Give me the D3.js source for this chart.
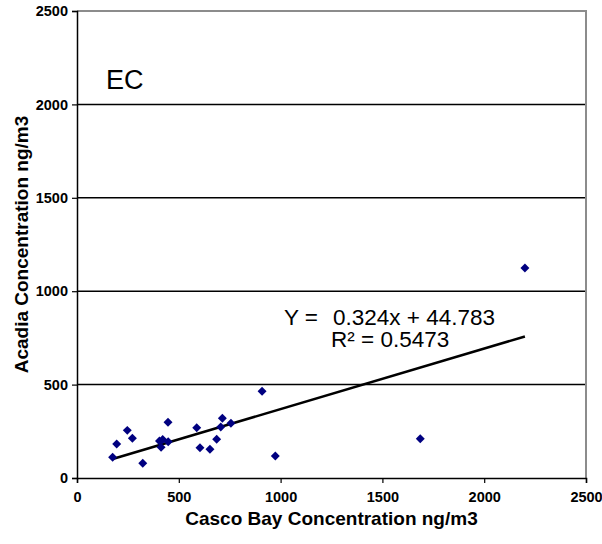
<!DOCTYPE html>
<html>
<head>
<meta charset="utf-8">
<script src="https://cdn.jsdelivr.net/npm/d3@7"></script>
<style>
  body { margin: 0; background: #fff; }
  text { font-family: "Liberation Sans", Arial, sans-serif; }
</style>
</head>
<body>
<div id="chart"></div>
<script>
// Casco Bay vs Acadia EC concentrations (ng/m3)
let cascoBay = [175, 195, 247, 272, 323, 447, 413, 421, 448, 405, 588, 604, 653, 686, 714, 706, 756, 909, 974, 1686, 2200];
let acadia   = [111, 182, 255, 213,  79, 298, 164, 206, 194, 198, 269, 162, 154, 207, 320, 273, 293, 464, 118,  210, 1124];

let xTicks = [0, 500, 1000, 1500, 2000, 2500];
let yTicks = [0, 500, 1000, 1500, 2000, 2500];

// linear fit shown on chart
let slope = 0.324;
let intercept = 44.783;
let rSquared = 0.5473;

let W = 602, H = 544;
let svg = d3.select("#chart").append("svg")
    .attr("width", W).attr("height", H);

let x = d3.scaleLinear().domain([0, 2500]).range([77, 586]);
let y = d3.scaleLinear().domain([0, 2500]).range([478, 11]);

// -------------------- GRID + FRAME -------------------- //
svg.append("g").selectAll("line")
    .data(yTicks.slice(1, -1))
    .enter().append("line")
    .attr("x1", x(0)).attr("x2", x(2500))
    .attr("y1", d => y(d)).attr("y2", d => y(d))
    .attr("stroke", "#000").attr("stroke-width", 1.5);

// gray top/right border
svg.append("path")
    .attr("d", `M${x(0)},${y(2500)}H${x(2500)}V${y(0)}`)
    .attr("fill", "none").attr("stroke", "#8c8c8c").attr("stroke-width", 2);

// -------------------- AXES -------------------- //
let xAxis = svg.append("g")
    .attr("transform", `translate(0,${y(0)})`)
    .call(d3.axisBottom(x).tickValues(xTicks).tickSize(5).tickPadding(9).tickFormat(d3.format("d")));

let yAxis = svg.append("g")
    .attr("transform", `translate(${x(0)},0)`)
    .call(d3.axisLeft(y).tickValues(yTicks).tickSize(5).tickPadding(4).tickFormat(d3.format("d")));

[xAxis, yAxis].forEach(g => {
    g.select(".domain").attr("stroke", "#000").attr("stroke-width", 1.5);
    g.selectAll(".tick line").attr("stroke", "#000").attr("stroke-width", 1.2);
    g.selectAll("text")
        .style("font-family", "'Liberation Sans', Arial, sans-serif")
        .style("font-size", "14.5px")
        .style("font-weight", "bold")
        .attr("fill", "#000");
});

// -------------------- TREND LINE -------------------- //
let xMin = d3.min(cascoBay), xMax = d3.max(cascoBay);
svg.append("line")
    .attr("x1", x(xMin)).attr("y1", y(slope * xMin + intercept))
    .attr("x2", x(xMax)).attr("y2", y(slope * xMax + intercept))
    .attr("stroke", "#000").attr("stroke-width", 2.5);

// -------------------- POINTS -------------------- //
let pts = cascoBay.map((d, i) => ({cx: d, cy: acadia[i]}));
svg.append("g").selectAll("path")
    .data(pts)
    .enter().append("path")
    .attr("d", d3.symbol(d3.symbolSquare, 40))
    .attr("transform", d => `translate(${x(d.cx)},${y(d.cy)}) rotate(45)`)
    .attr("fill", "#000080");

// -------------------- LABELS -------------------- //
svg.append("text")
    .attr("x", 106).attr("y", 89)
    .style("font-size", "27px")
    .text("EC");

let eq = svg.append("text")
    .attr("x", 284).attr("y", 325)
    .style("font-size", "22.5px");
eq.append("tspan").text("Y =");
eq.append("tspan").attr("x", 333).text(slope + "x + " + intercept);

svg.append("text")
    .attr("x", 331).attr("y", 347)
    .style("font-size", "22.5px")
    .text("R\u00B2 = " + rSquared);

svg.append("text")
    .attr("x", (x(0) + x(2500)) / 2).attr("y", 525)
    .attr("text-anchor", "middle")
    .style("font-size", "19px").style("font-weight", "bold")
    .text("Casco Bay Concentration ng/m3");

svg.append("text")
    .attr("transform", `translate(28,${(y(0) + y(2500)) / 2}) rotate(-90)`)
    .attr("text-anchor", "middle")
    .style("font-size", "19px").style("font-weight", "bold")
    .text("Acadia Concentration ng/m3");
</script>
</body>
</html>
